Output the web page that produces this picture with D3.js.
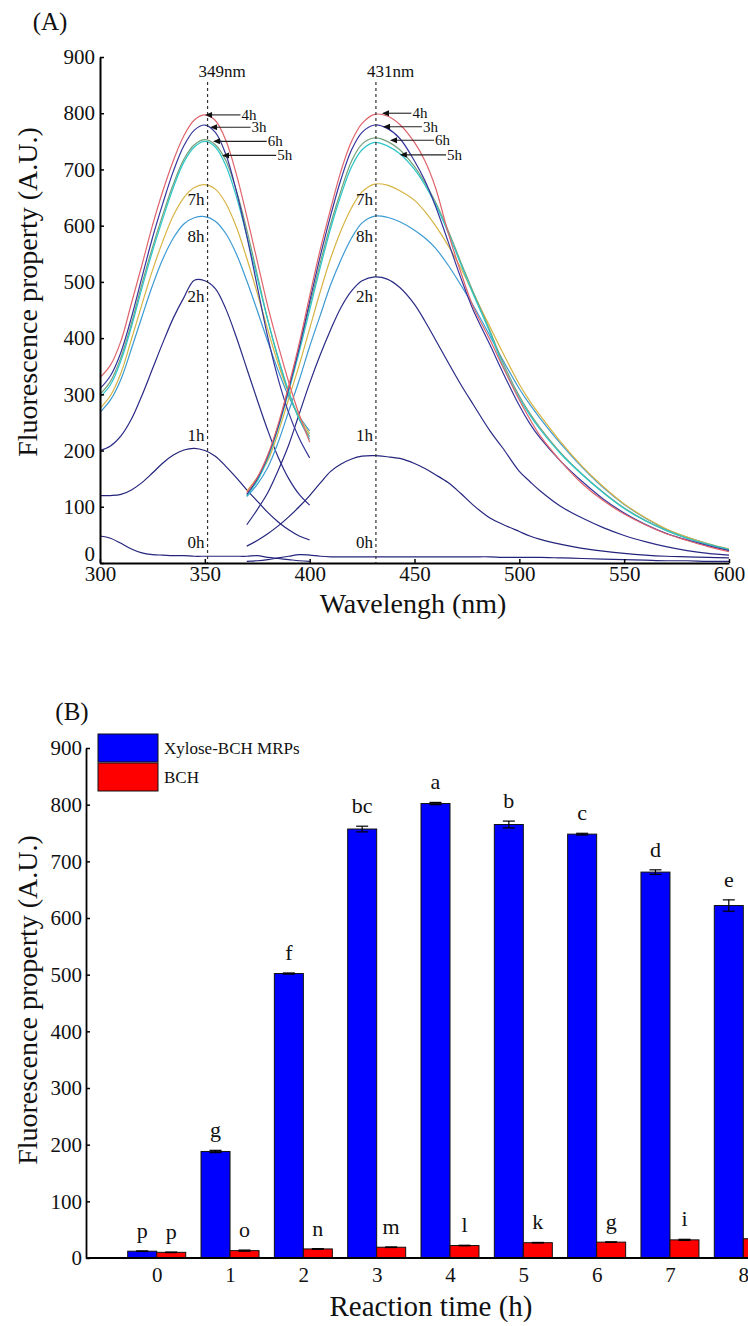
<!DOCTYPE html>
<html><head><meta charset="utf-8">
<script src="https://cdn.jsdelivr.net/npm/d3@7"></script>
<style>
html,body{margin:0;padding:0;background:#fff;}
svg{display:block;}
text{font-family:"Liberation Serif","Times New Roman",serif;fill:#111;}
</style></head><body><svg id="chart" width="748" height="1326"></svg>
<script>
// ---------------- Panel A data (fluorescence spectra) ----------------
const exWavelengths = [300,305,310,315,320,325,330,335,340,345,350,355,360,365,370,375,380,385,390,395,400];
const emWavelengths = [370,375,380,385,390,395,400,405,410,415,420,425,431,437,443,450,455,460,466,472,478,486,492,500,505,510,520,530,540,550,560,570,580,590,600];
const seriesNames  = ["0h","1h","2h","3h","4h","5h","6h","7h","8h"];
const seriesColors = ["#24247c","#24247c","#2a2a86","#35359c","#e0646c","#2cc6c8","#74a07a","#d6b444","#3c9ad2"];

const ex0h = [48,44,35,25,18,15,14,13,13,12,12,12,12,12,12,13,10,8,6,4,3];
const ex1h = [120,120,122,130,143,160,178,192,201,204,200,190,172,152,130,110,90,73,59,48,41];
const ex2h = [200,208,226,256,298,345,392,436,472,503,502,488,452,402,346,290,236,188,150,122,103];
const ex3h = [310,333,375,437,508,578,640,697,742,770,779,766,727,662,582,492,402,327,267,222,187];
const ex4h = [330,352,395,462,530,600,662,716,760,788,797,787,752,692,617,537,457,387,322,264,215];
const ex5h = [295,317,360,420,489,554,613,668,713,740,750,740,707,652,582,507,432,365,305,256,220];
const ex6h = [300,323,366,426,496,561,620,674,718,744,753,744,716,663,593,513,433,363,303,256,225];
const ex7h = [275,298,338,398,460,520,573,618,650,668,673,665,640,598,542,480,415,354,302,260,230];
const ex8h = [268,290,327,381,438,493,541,578,603,614,616,608,586,550,502,449,394,342,296,261,235];

const em0h = [3,4,6,9,12,15,14,12,11,11,11,11,11,11,11,11,11,11,11,11,11,11,10,10,10,10,9,8,7,6,5,4,4,3,3];
const em1h = [30,40,52,66,82,100,120,142,163,176,185,190,191,189,186,177,168,157,143,124,103,80,69,56,48,42,33,26,21,17,14,12,11,10,9];
const em2h = [68,95,125,165,210,265,320,370,415,455,484,502,509,505,490,460,430,397,357,318,282,235,205,163,145,128,100,80,63,49,38,29,22,17,14];
const em3h = [122,150,190,243,310,383,465,545,618,683,735,766,779,773,755,715,680,635,572,508,450,388,340,280,248,222,180,145,114,89,69,53,41,31,22];
const em4h = [125,152,192,247,315,390,475,557,630,698,750,782,798,795,780,748,715,668,588,518,456,397,350,290,256,226,180,141,111,87,68,52,40,29,20];
const em5h = [120,146,186,240,305,375,450,525,595,655,705,735,748,742,728,700,672,638,588,532,478,410,352,293,263,237,193,157,125,97,75,58,44,33,24];
const em6h = [120,148,189,244,310,381,458,533,603,663,715,745,756,750,735,705,676,642,592,536,482,413,358,297,266,240,195,158,126,98,76,58,44,33,24];
const em7h = [128,152,182,232,292,352,417,482,542,592,632,660,674,672,662,645,625,600,565,525,480,420,375,318,288,262,214,172,136,105,81,61,46,34,25];
const em8h = [118,140,170,215,270,325,385,440,495,540,578,605,617,615,607,592,578,560,530,495,458,404,362,310,282,257,211,170,134,104,80,60,46,34,24];

const peakMarkers = [{label:"349nm", at:351.3}, {label:"431nm", at:431.6}];
// arrow annotations: [series label, tip wavelength, tip value, text x wavelength]
const arrowLabels = [
  ["4h",350.1,797,367.5],["3h",352.5,775,372.3],["6h",353.9,750,380],["5h",358.2,725,384.5],
  ["4h",434.5,800,449],["3h",435,776,454],["6h",438.3,752,459.8],["5h",443,726,465.5]
];
// side labels near dashed lines: [label, value at label centre]
const sideLabels = [["7h",647],["8h",582],["2h",475],["1h",227],["0h",38]];

// ---------------- Panel B data (bars) ----------------
const times = ["0","1","2","3","4","5","6","7","8"];
const mrpValues  = [12,188,502,757,802,765,748,681,622];
const mrpErrors  = [0.5,2,1,5,2,6,1.5,4,10];
const mrpLetters = ["p","g","f","bc","a","b","c","d","e"];
const bchValues  = [10,13,16,19,22,27,28,32,34];
const bchErrors  = [0.5,1,0.5,0.5,0.5,0.5,0.5,1,1];
const bchLetters = ["p","o","n","m","l","k","g","i",""];
const legendNames = ["Xylose-BCH MRPs","BCH"];
const legendColors = ["#0000ff","#ff0000"];

// ---------------- drawing ----------------
const svg = d3.select("#chart");
svg.append("rect").attr("width",748).attr("height",1326).attr("fill","#fff");
const FONT = '"Liberation Serif","Times New Roman",serif';

// ===== Panel A =====
const xA = d3.scaleLinear().domain([300,600]).range([100,729]);
const yA = d3.scaleLinear().domain([0,900]).range([563,57]);
const gA = svg.append("g");

const exSeries = [ex0h,ex1h,ex2h,ex3h,ex4h,ex5h,ex6h,ex7h,ex8h];
const emSeries = [em0h,em1h,em2h,em3h,em4h,em5h,em6h,em7h,em8h];
const line = d3.line().x(d=>xA(d[0])).y(d=>yA(d[1])).curve(d3.curveCatmullRom.alpha(0.5));

const order = [0,1,2,8,7,6,5,3,4];
order.forEach(i=>{
  gA.append("path").datum(exWavelengths.map((w,j)=>[w,exSeries[i][j]]))
    .attr("d",line).attr("fill","none").attr("stroke",seriesColors[i]).attr("stroke-width",1.2);
  gA.append("path").datum(emWavelengths.map((w,j)=>[w,emSeries[i][j]]))
    .attr("d",line).attr("fill","none").attr("stroke",seriesColors[i]).attr("stroke-width",1.2);
});

// dashed peak lines
peakMarkers.forEach(m=>{
  gA.append("line").attr("x1",xA(m.at)).attr("x2",xA(m.at)).attr("y1",82).attr("y2",yA(0))
    .attr("stroke","#333").attr("stroke-width",1.2).attr("stroke-dasharray","3,3");
  gA.append("text").attr("x",xA(m.at)-9).attr("y",77).attr("font-size",17).text(m.label);
  sideLabels.forEach(s=>{
    gA.append("text").attr("x",xA(m.at)-3).attr("y",yA(s[1])).attr("dy","0.35em")
      .attr("text-anchor","end").attr("font-size",17).text(s[0]);
  });
});

// arrows
arrowLabels.forEach(a=>{
  const tx = xA(a[1]), ty = yA(a[2]), lx = xA(a[3]);
  gA.append("line").attr("x1",tx+5).attr("x2",lx-1).attr("y1",ty).attr("y2",ty)
    .attr("stroke","#222").attr("stroke-width",1.1);
  gA.append("path").attr("d",`M${tx},${ty}L${tx+7},${ty-3}L${tx+7},${ty+3}Z`).attr("fill","#111");
  gA.append("text").attr("x",lx).attr("y",ty).attr("dy","0.33em").attr("font-size",15).text(a[0]);
});

// axes A
const axAx = gA.append("g").attr("transform",`translate(0,${yA(0)})`)
  .call(d3.axisBottom(xA).tickValues([300,350,400,450,500,550,600]).tickSize(-4).tickSizeOuter(0).tickPadding(3).tickFormat(d3.format("d")));
const axAy = gA.append("g").attr("transform",`translate(${xA(300)},0)`)
  .call(d3.axisLeft(yA).tickValues([0,100,200,300,400,500,600,700,800,900]).tickSize(-4).tickSizeOuter(0).tickPadding(5));
[axAx,axAy].forEach(a=>{
  a.attr("font-size",21).attr("font-family",FONT);
  a.select(".domain").attr("stroke","#000").attr("stroke-width",2);
  a.selectAll(".tick line").attr("stroke","#000").attr("stroke-width",1.5);
  a.selectAll(".tick text").attr("fill","#111");
});
// origin label sits slightly higher so it does not collide with "300"
axAy.selectAll(".tick text").filter(d=>d===0).attr("dy","-0.12em");
gA.append("text").attr("x",50).attr("y",30).attr("text-anchor","middle").attr("font-size",25).text("(A)");
gA.append("text").attr("x",413).attr("y",613).attr("text-anchor","middle").attr("font-size",28).text("Wavelengh (nm)");
gA.append("text").attr("transform","translate(37,292) rotate(-90)").attr("text-anchor","middle").attr("font-size",28).text("Fluorescence property (A.U.)");

// ===== Panel B =====
const xB = d3.scalePoint().domain(times).range([156.7,743.3]);
const yB = d3.scaleLinear().domain([0,900]).range([1258,748]);
const gB = svg.append("g");
const bw = 29;

const groups = gB.selectAll("g.grp").data(times).enter().append("g");
groups.append("rect").attr("x",(d)=>xB(d)-bw).attr("width",bw)
  .attr("y",(d,i)=>yB(mrpValues[i])).attr("height",(d,i)=>yB(0)-yB(mrpValues[i]))
  .attr("fill","#0000ff").attr("stroke","#111").attr("stroke-width",1);
groups.append("rect").attr("x",(d)=>xB(d)).attr("width",bw)
  .attr("y",(d,i)=>yB(bchValues[i])).attr("height",(d,i)=>yB(0)-yB(bchValues[i]))
  .attr("fill","#ff0000").attr("stroke","#111").attr("stroke-width",1);

function errBar(cx, v, e){
  gB.append("line").attr("x1",cx).attr("x2",cx).attr("y1",yB(v-e)).attr("y2",yB(v+e)).attr("stroke","#000").attr("stroke-width",1.2);
  [v-e,v+e].forEach(t=>gB.append("line").attr("x1",cx-6).attr("x2",cx+6).attr("y1",yB(t)).attr("y2",yB(t)).attr("stroke","#000").attr("stroke-width",1.2));
}
times.forEach((t,i)=>{
  const cb = xB(t)-bw/2, cr = xB(t)+bw/2;
  errBar(cb, mrpValues[i], mrpErrors[i]);
  errBar(cr, bchValues[i], bchErrors[i]);
  gB.append("text").attr("x",cb).attr("y",yB(mrpValues[i]+mrpErrors[i])-13).attr("text-anchor","middle").attr("font-size",22).text(mrpLetters[i]);
  if(bchLetters[i]) gB.append("text").attr("x",cr).attr("y",yB(bchValues[i]+bchErrors[i])-13).attr("text-anchor","middle").attr("font-size",22).text(bchLetters[i]);
});

// axes B
const axBy = gB.append("g").attr("transform","translate(86,0)")
  .call(d3.axisLeft(yB).tickValues([0,100,200,300,400,500,600,700,800,900]).tickSize(-4).tickSizeOuter(0).tickPadding(4));
const axBx = gB.append("g").attr("transform",`translate(0,${yB(0)})`)
  .call(d3.axisBottom(xB).tickSize(0).tickPadding(9));
axBx.select(".domain").remove();
gB.append("line").attr("x1",86).attr("x2",748).attr("y1",yB(0)).attr("y2",yB(0)).attr("stroke","#000").attr("stroke-width",1.8);
[axBx,axBy].forEach(a=>{
  a.attr("font-size",21).attr("font-family",FONT);
  a.select(".domain").attr("stroke","#000").attr("stroke-width",1.8);
  a.selectAll(".tick line").attr("stroke","#000").attr("stroke-width",1.5);
  a.selectAll(".tick text").attr("fill","#111");
});

// legend
legendNames.forEach((n,i)=>{
  gB.append("rect").attr("x",98).attr("y",734+i*29).attr("width",60).attr("height",28)
    .attr("fill",legendColors[i]).attr("stroke","#111").attr("stroke-width",1);
  gB.append("text").attr("x",164).attr("y",748+i*29).attr("dy","0.35em").attr("font-size",17).text(n);
});
gB.append("text").attr("x",72).attr("y",720).attr("text-anchor","middle").attr("font-size",25).text("(B)");
gB.append("text").attr("x",431).attr("y",1316).attr("text-anchor","middle").attr("font-size",29).text("Reaction time (h)");
gB.append("text").attr("transform","translate(37,1000) rotate(-90)").attr("text-anchor","middle").attr("font-size",28).text("Fluorescence property (A.U.)");
</script></body></html>
